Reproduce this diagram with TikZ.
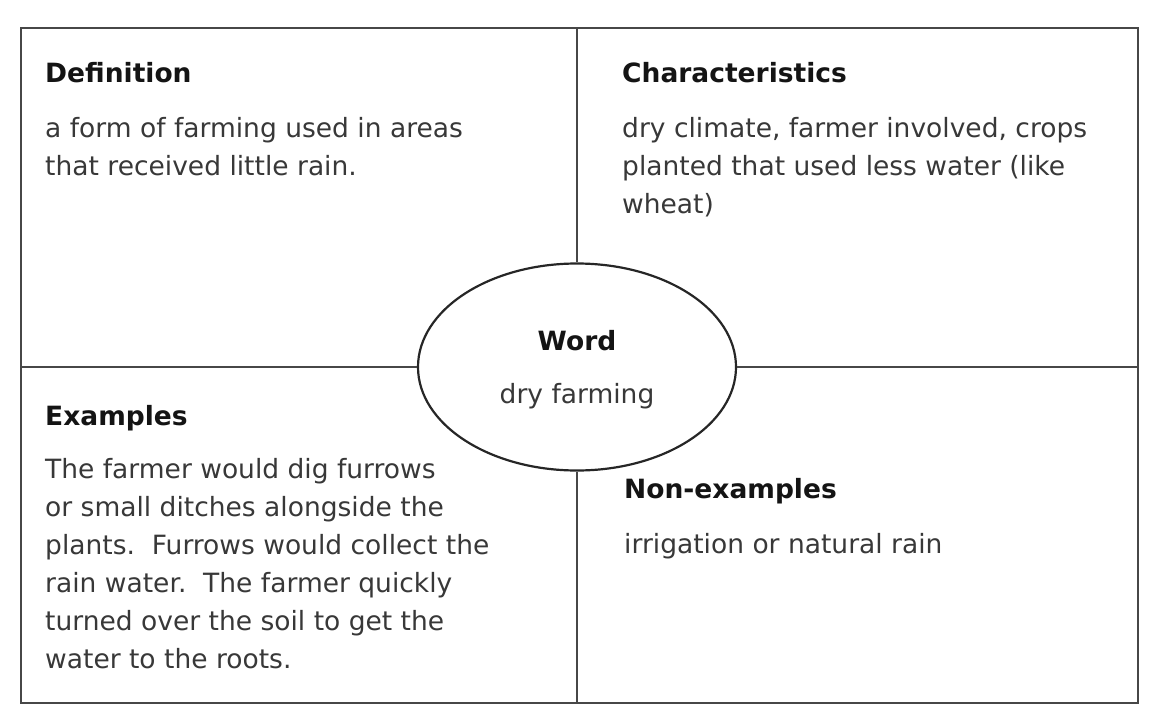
\documentclass[tikz,border=0pt]{standalone}
\usepackage{fontspec}
\setmainfont{DejaVu Sans}
\usetikzlibrary{shapes.geometric}
\begin{document}
\begin{tikzpicture}[x=1pt,y=-1pt,
		head/.style={anchor=base west, inner sep=0pt, font=\fontsize{26.5}{38}\selectfont\bfseries, text=black!92},
		body/.style={anchor=north west, inner sep=0pt, align=left, font=\fontsize{26.5}{38}\selectfont, text=black!78},
		frame/.style={draw=black!72, line width=2.6pt}]
		\useasboundingbox (0,0) rectangle (1164,706);
		\coordinate (t) at (577,28);
		\coordinate (b) at (577,703);
		\coordinate (l) at (21,367);
		\coordinate (r) at (1138,367);
		\draw[frame] (21,28) rectangle (1138,703);
		\node[ellipse, draw=black!85, line width=2.2pt, minimum width=318, minimum height=207, inner sep=0pt] (w) at (577,367) {};
		\draw[frame] (t) -- (w.north);
		\draw[frame] (w.south) -- (b);
		\draw[frame] (l) -- (w.west);
		\draw[frame] (w.east) -- (r);
		\node[head] (d) at (45,83) {Definition};
		\node[body] (dt) at (45,110.4) {\strut a form of farming used in areas\\that received little rain.};
		\node[head] (c) at (622,83) {Characteristics};
		\node[body] (ct) at (622,110.4) {\strut dry climate, farmer involved, crops\\planted that used less water (like\\wheat)};
		\node[head, anchor=base] (wl) at (577,350) {Word};
		\node[body, anchor=base] (wt) at (577,403) {dry farming};
		\node[head] (e) at (45,425) {Examples};
		\node[body] (et) at (45,451.4) {\strut The farmer would dig furrows\\or small ditches alongside the\\plants.\ \ Furrows would collect the\\rain water.\ \ The farmer quickly\\turned over the soil to get the\\water to the roots.};
		\node[head] (n) at (624,498) {Non-examples};
		\node[body] (nt) at (624,526.4) {\strut irrigation or natural rain};
	\end{tikzpicture}
\end{document}
